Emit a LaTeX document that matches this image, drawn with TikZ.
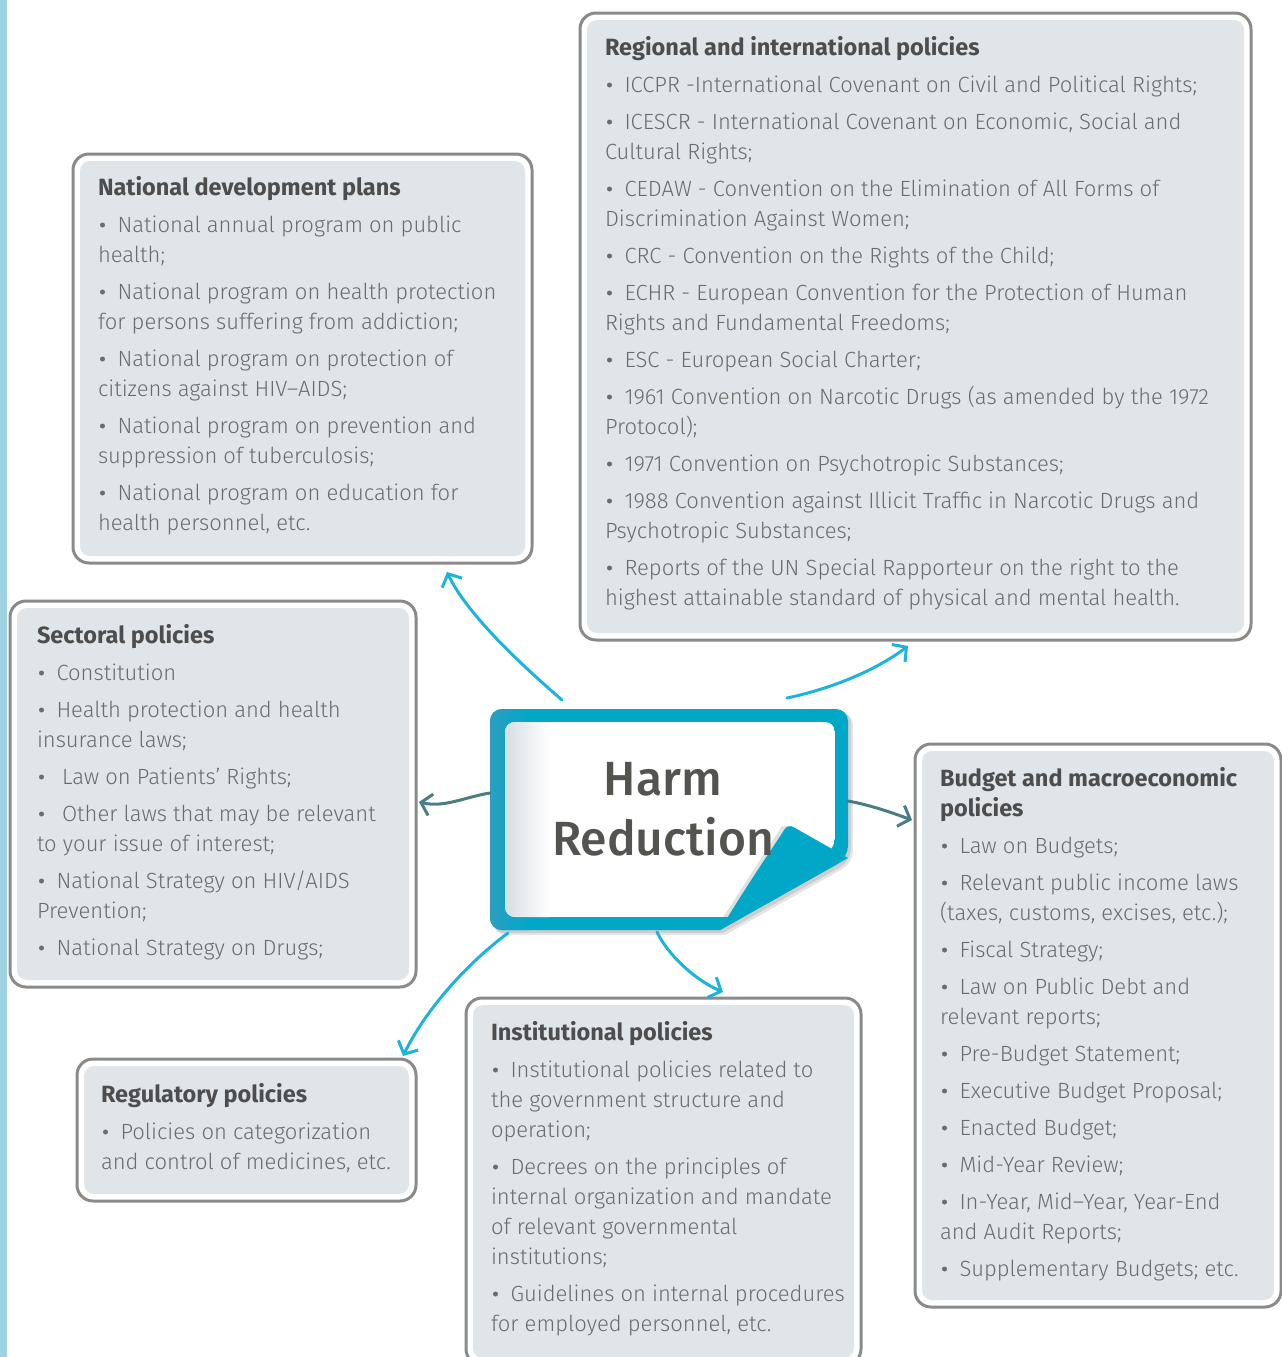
\documentclass[tikz,border=0pt]{standalone}
\usepackage{fontspec}
\setmainfont{Fira Sans}[UprightFont={* Light}, BoldFont={* Bold}]
\newfontfamily\harmfont{Fira Sans}[UprightFont={* Medium}]
\usetikzlibrary{arrows.meta,calc}
\definecolor{boxborder}{HTML}{8A8A8A}
\definecolor{boxfill}{HTML}{DFE5E8}
\definecolor{titlecol}{HTML}{4D4D4D}
\definecolor{bodycol}{HTML}{6C6C6C}
\definecolor{arrowcyan}{HTML}{1CB3DC}
\definecolor{arrowteal}{HTML}{4A7D86}
\definecolor{harmblue}{HTML}{00A7C7}
\definecolor{harmleft}{HTML}{2A9EC0}
\definecolor{harmtext}{HTML}{53534F}
\definecolor{innergray}{HTML}{D6DEE2}
\definecolor{sidebar}{HTML}{9DD0E2}
\newcommand{\gapline}{\\[7pt]}
\newcommand{\ttl}[1]{\textcolor{titlecol}{\fontsize{23.5}{30}\selectfont\bfseries #1}}
\newcommand{\dotmark}{\tikz[baseline=-7pt]\fill[bodycol] (0pt,0pt) circle[radius=2.5pt];}
\newcommand{\bul}{\makebox[19.5pt][l]{\hspace{2pt}\dotmark}}
\newcommand{\bulw}{\makebox[25pt][l]{\hspace{2pt}\dotmark}}
\begin{document}
\begin{tikzpicture}[x=1pt,y=1pt,
  outerbox/.style={draw=boxborder, line width=3pt, fill=white, rounded corners=16pt, inner sep=0pt, outer sep=0pt, anchor=north west},
  txt/.style={anchor=north west, inner sep=0pt, outer sep=0pt, align=left, font=\fontsize{22}{30}\selectfont, text=bodycol},
  cyanarrow/.style={draw=arrowcyan, line width=3pt, line cap=round, -{Straight Barb[length=10pt,width=22pt,line width=3pt]}},
  tealarrow/.style={draw=arrowteal, line width=3pt, line cap=round, -{Straight Barb[length=10pt,width=22pt,line width=3pt]}}
]
\clip (0,0) rectangle (1282,-1357);
\fill[white] (0,0) rectangle (1282,-1357);
\fill[sidebar] (0,0) rectangle (7,-1357);

% ---------- boxes ----------
\node[outerbox, minimum width=459pt, minimum height=409pt] (nat) at (73,-154) {};
\node[outerbox, minimum width=671pt, minimum height=627pt] (reg) at (580,-13) {};
\node[outerbox, minimum width=406pt, minimum height=386pt] (sec) at (10,-601) {};
\node[outerbox, minimum width=339pt, minimum height=142pt] (rgl) at (77,-1059) {};
\node[outerbox, minimum width=395pt, minimum height=367pt] (ins) at (466,-998) {};
\node[outerbox, minimum width=366pt, minimum height=563pt] (bud) at (915,-744) {};
\foreach \b in {nat,reg,sec,rgl,ins,bud}{
  \fill[boxfill, rounded corners=10pt] ([shift={(7,-7)}]\b.north west) rectangle ([shift={(-7,7)}]\b.south east);
}

% ---------- texts ----------
\node[txt] (nat-t) at (98,-174) {\strut\ttl{National development plans}\gapline
\bul National annual program on public\\
health;\gapline
\bul National program on health protection\\
for persons suffering from addiction;\gapline
\bul National program on protection of\\
citizens against HIV–AIDS;\gapline
\bul National program on prevention and\\
suppression of tuberculosis;\gapline
\bul National program on education for\\
health personnel, etc.};

\node[txt] (reg-t) at (605,-34) {\strut\ttl{Regional and international policies}\gapline
\bul ICCPR -International Covenant on Civil and Political Rights;\gapline
\bul ICESCR - International Covenant on Economic, Social and\\
Cultural Rights;\gapline
\bul CEDAW - Convention on the Elimination of All Forms of\\
Discrimination Against Women;\gapline
\bul CRC - Convention on the Rights of the Child;\gapline
\bul ECHR - European Convention for the Protection of Human\\
Rights and Fundamental Freedoms;\gapline
\bul ESC - European Social Charter;\gapline
\bul 1961 Convention on Narcotic Drugs (as amended by the 1972\\
Protocol);\gapline
\bul 1971 Convention on Psychotropic Substances;\gapline
\bul 1988 Convention against Illicit Traffic in Narcotic Drugs and\\
Psychotropic Substances;\gapline
\bul Reports of the UN Special Rapporteur on the right to the\\
highest attainable standard of physical and mental health.};

\node[txt] (sec-t) at (37,-622) {\strut\ttl{Sectoral policies}\gapline
\bul Constitution\gapline
\bul Health protection and health\\
insurance laws;\gapline
\bulw Law on Patients’ Rights;\gapline
\bulw Other laws that may be relevant\\
to your issue of interest;\gapline
\bul National Strategy on HIV/AIDS\\
Prevention;\gapline
\bul National Strategy on Drugs;};

\node[txt] (rgl-t) at (101,-1081) {\strut\ttl{Regulatory policies}\gapline
\bul Policies on categorization\\
and control of medicines, etc.};

\node[txt] (ins-t) at (491,-1019) {\strut\ttl{Institutional policies}\gapline
\bul Institutional policies related to\\
the government structure and\\
operation;\gapline
\bul Decrees on the principles of\\
internal organization and mandate\\
of relevant governmental\\
institutions;\gapline
\bul Guidelines on internal procedures\\
for employed personnel, etc.};

\node[txt] (bud-t) at (940,-765) {\strut\ttl{Budget and macroeconomic}\\
\ttl{policies}\gapline
\bul Law on Budgets;\gapline
\bul Relevant public income laws\\
(taxes, customs, excises, etc.);\gapline
\bul Fiscal Strategy;\gapline
\bul Law on Public Debt and\\
relevant reports;\gapline
\bul Pre-Budget Statement;\gapline
\bul Executive Budget Proposal;\gapline
\bul Enacted Budget;\gapline
\bul Mid-Year Review;\gapline
\bul In-Year, Mid–Year, Year-End\\
and Audit Reports;\gapline
\bul Supplementary Budgets; etc.};

% ---------- central Harm Reduction ----------
\node[minimum width=358pt, minimum height=221pt, inner sep=0pt, outer sep=0pt, anchor=north west] (harm) at (490,-709) {};
% shadow
\fill[black, opacity=0.10, rounded corners=12pt] (494,-713) -- (853,-713) -- (853,-863) [sharp corners] -- (725,-935) [rounded corners=12pt] -- (494,-935) -- cycle;
\fill[black, opacity=0.10, rounded corners=12pt] (492,-711) -- (851,-711) -- (851,-861) [sharp corners] -- (723,-933) [rounded corners=12pt] -- (492,-933) -- cycle;
% blue frame
\fill[harmblue, rounded corners=12pt] (490,-709) -- (848,-709) -- (848,-858) [sharp corners] -- (720,-930) [rounded corners=12pt] -- (490,-930) -- cycle;
\begin{scope}
\clip[rounded corners=12pt] (490,-709) rectangle (560,-930);
\shade[left color=harmleft, right color=harmblue] (490,-709) rectangle (530,-930);
\end{scope}
% white page
\begin{scope}
\clip[rounded corners=10pt] (505,-722) -- (835,-722) -- (835,-848) [sharp corners] -- (728,-917) [rounded corners=10pt] -- (505,-917) -- cycle;
\fill[white] (505,-722) rectangle (835,-917);
\shade[left color=innergray, middle color=innergray!60!white, right color=white] (505,-722) rectangle (550,-917);
% flap shadow
\fill[black, opacity=0.12] (715,-930) -- (782,-826) -- (790,-826) -- (725,-930) -- cycle;
\end{scope}
% flap
\fill[harmblue, rounded corners=6pt] (720,-930) .. controls (745,-888) and (770,-852) .. (788,-824) [rounded corners=0pt] -- (848,-858) -- cycle;
\node[font=\harmfont\fontsize{48}{60}\selectfont, text=harmtext, align=center, anchor=north, inner sep=0pt] (harmtxt) at (663,-753) {\strut Harm\\Reduction};

% ---------- connectors ----------
\coordinate (s1) at ($(harm.north west)+(72,9)$);
\coordinate (e1) at ($(nat.south)+(144.5,-9)$);
\coordinate (s2) at ($(harm.north west)+(297,11)$);
\coordinate (e2) at ($(reg.south west)+(328,-6)$);
\coordinate (s3) at ($(harm.north west)+(0,-84)$);
\coordinate (e3) at ($(sec.north east)+(3,-201)$);
\coordinate (s4) at ($(harm.north east)+(0,-92)$);
\coordinate (e4) at ($(bud.north west)+(-3,-76)$);
\coordinate (s5) at ($(harm.south west)+(18,-3)$);
\coordinate (e5) at ($(rgl.north east)+(-13,3)$);
\coordinate (s6) at ($(harm.south west)+(167,-2)$);
\coordinate (e6) at ($(ins.north west)+(257,6)$);

\draw[cyanarrow] (s1) .. controls +(-52,45) and +(18,-38) .. (e1);
\draw[cyanarrow] (s2) .. controls +(43,9) and +(-33,-25) .. (e2);
\draw[tealarrow] (s3) .. controls +(-25,-4) and +(25,-6) .. (e3);
\draw[tealarrow] (s4) .. controls +(22,-4) and +(-22,8) .. (e4);
\draw[cyanarrow] (s5) .. controls +(-43,-32) and +(22,45) .. (e5);
\draw[cyanarrow] (s6) .. controls +(11,-23) and +(-28,12) .. (e6);
\end{tikzpicture}
\end{document}
